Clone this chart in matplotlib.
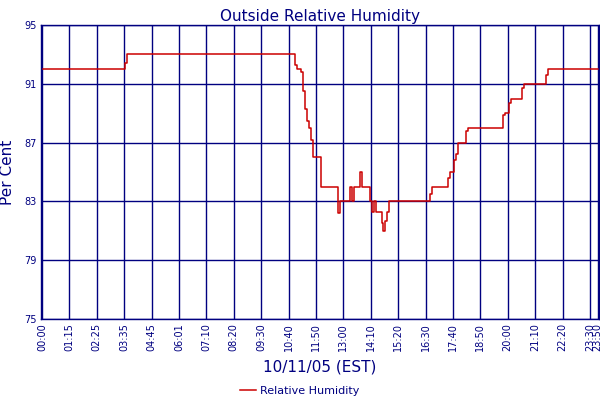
import numpy as np
from matplotlib import pyplot as plt

# humedad relativa, como (nivel, cantidad de muestras)
hum_nivel = [92, 92.4, 93, 92.3, 92, 91.8, 90.5, 89.3, 88.5, 88, 87.2, 86, 84,
             82.2, 83, 84, 83, 84, 85, 84, 83, 82.3, 83, 82.3, 81.5, 81, 81.7,
             82.3, 83, 83.5, 84, 84.6, 85, 85.8, 86.2, 87, 87.8, 88, 88.9, 89,
             89.7, 90, 90.7, 91, 91.6, 92]
hum_cuenta = [43, 1, 86, 1, 2, 1, 1, 1, 1, 1, 1, 4, 9,
              1, 5, 1, 1, 3, 1, 4, 1, 1, 1, 3, 1, 1, 1,
              1, 21, 1, 8, 1, 2, 1, 1, 4, 1, 18, 1, 2,
              1, 6, 1, 11, 1, 26]

horas = ["00:00", "01:15", "02:25", "03:35", "04:45", "06:01", "07:10",
         "08:20", "09:30", "10:40", "11:50", "13:00", "14:10", "15:20",
         "16:30", "17:40", "18:50", "20:00", "21:10", "22:20", "23:30", "23:50"]

y = np.repeat(hum_nivel, hum_cuenta)
x = np.arange(len(y))
pos_horas = list(range(0, 14 * 21, 14)) + [len(y) - 1]

azul = "#000080"

fig = plt.figure(figsize=(6, 4), dpi=100)
ax = fig.add_axes([0.0675, 0.2025, 0.931, 0.735])

ax.plot(x, y, color="#cc0000", linewidth=1.1, drawstyle="steps-mid",
        label="Relative Humidity")

ax.set_xlim(-0.8, len(y) - 0.3)
ax.set_ylim(75, 95)
ax.set_yticks([75, 79, 83, 87, 91, 95])
ax.set_xticks(pos_horas)
ax.set_xticklabels(horas, rotation=90)
ax.tick_params(axis="both", length=0, colors=azul, labelsize=7, pad=3)
ax.grid(True, color=azul, linewidth=1)
for s in ax.spines.values():
    s.set_color(azul)
    s.set_linewidth(1)

ax.set_title("Outside Relative Humidity", color=azul, fontsize=11, pad=3)
ax.set_ylabel("Per Cent", color=azul, fontsize=11, labelpad=6)
ax.set_xlabel("10/11/05 (EST)", color=azul, fontsize=11, labelpad=6)

ley = fig.legend(loc="lower center", bbox_to_anchor=(0.5, -0.015), frameon=False,
                 fontsize=8, handlelength=1.4, handletextpad=0.4)
for t in ley.get_texts():
    t.set_color(azul)

plt.savefig("out.png", dpi=100)
plt.close()
